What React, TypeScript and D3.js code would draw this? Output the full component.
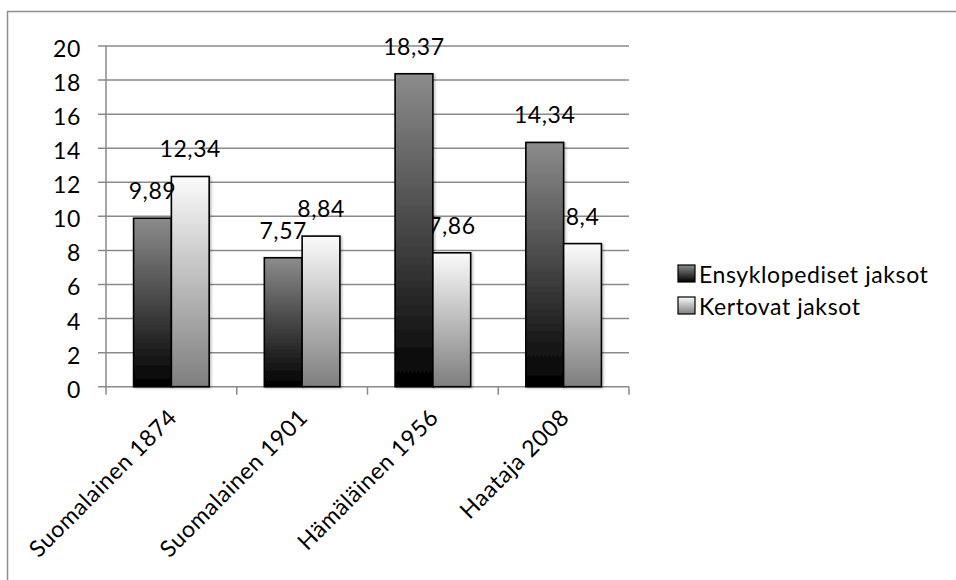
import React from "react";
import * as d3 from "d3";

const categories = ["Suomalainen 1874", "Suomalainen 1901", "Hämäläinen 1956", "Haataja 2008"];
const seriesNames = ["Ensyklopediset jaksot", "Kertovat jaksot"];
const ensyklopediset = [9.89, 7.57, 18.37, 14.34];
const kertovat = [12.34, 8.84, 7.86, 8.4];
const labelsEns = ["9,89", "7,57", "18,37", "14,34"];
const labelsKer = ["12,34", "8,84", "7,86", "8,4"];
const yTicks = [0, 2, 4, 6, 8, 10, 12, 14, 16, 18, 20];

const W = 956;
const H = 580;
const FONT = "Lato, 'Open Sans', sans-serif";
const FS = 23;
const LS = 0.6;
const GRID = "#8a8a8a";

export default function App() {
  const x0 = d3.scaleBand<string>().domain(categories).range([106, 629]).padding(0);
  const x1 = d3
    .scaleBand<string>()
    .domain(seriesNames)
    .range([0, x0.bandwidth()])
    .paddingInner(0)
    .paddingOuter(0.73);
  const y = d3.scaleLinear().domain([0, 20]).range([386.7, 46]);

  const values = [ensyklopediset, kertovat];
  const labels = [labelsEns, labelsKer];
  const fills = ["url(#gradDark)", "url(#gradLight)"];

  const bars = (s: number) =>
    categories.map((c, i) => {
      const v = values[s][i];
      const bx = (x0(c) as number) + (x1(seriesNames[s]) as number);
      return (
        <rect
          key={`b${s}-${i}`}
          x={bx}
          y={y(v)}
          width={x1.bandwidth()}
          height={y(0) - y(v)}
          fill={fills[s]}
          stroke="#000"
          strokeWidth={1.6}
          filter="url(#shadow)"
        />
      );
    });

  const valueLabels = (s: number) =>
    categories.map((c, i) => {
      const v = values[s][i];
      const cx = (x0(c) as number) + (x1(seriesNames[s]) as number) + x1.bandwidth() / 2;
      return (
        <text key={`l${s}-${i}`} x={cx} y={y(v) - 19} textAnchor="middle" fontSize={FS} fill="#000">
          {labels[s][i]}
        </text>
      );
    });

  return (
    <svg
      width={W}
      height={H}
      style={{ position: "absolute", left: 0, top: 0, background: "#fff" }}
      fontFamily={FONT}
      letterSpacing={LS}
    >
      <defs>
        <linearGradient id="gradDark" x1="0" y1="1" x2="0" y2="0">
          <stop offset="0%" stopColor="#000000" />
          <stop offset="100%" stopColor="#8c8c8c" />
        </linearGradient>
        <linearGradient id="gradLight" x1="0" y1="1" x2="0" y2="0">
          <stop offset="0%" stopColor="#7e7e7e" />
          <stop offset="100%" stopColor="#fbfbfb" />
        </linearGradient>
        <filter id="shadow" x="-20%" y="-5%" width="140%" height="110%">
          <feDropShadow dx="1.5" dy="1" stdDeviation="1.2" floodColor="#000" floodOpacity="0.25" />
        </filter>
      </defs>

      <rect x={7.5} y={11.5} width={W + 10} height={H + 10} fill="#fff" stroke="#8e8e8e" strokeWidth={1.5} />

      {yTicks.map((t) => (
        <g key={`g${t}`}>
          <line x1={98} x2={629} y1={y(t)} y2={y(t)} stroke={GRID} strokeWidth={1.5} />
          <text x={81} y={y(t) + 11} textAnchor="end" fontSize={FS} fill="#000">
            {t}
          </text>
        </g>
      ))}

      <line x1={106} x2={106} y1={y(20)} y2={y(0)} stroke={GRID} strokeWidth={1.5} />
      {[...categories.map((c) => x0(c) as number), 629].map((tx, i) => (
        <line key={`t${i}`} x1={tx} x2={tx} y1={y(0)} y2={y(0) + 8} stroke={GRID} strokeWidth={1.5} />
      ))}

      {valueLabels(1)}
      {bars(0)}
      {bars(1)}
      {valueLabels(0)}

      {categories.map((c) => {
        const cx = (x0(c) as number) + x0.bandwidth() / 2;
        return (
          <text
            key={`c${c}`}
            transform={`translate(${cx + 7},${419}) rotate(-45)`}
            textAnchor="end"
            fontSize={FS}
            fill="#000"
          >
            {c}
          </text>
        );
      })}

      {seriesNames.map((s, i) => (
        <g key={`lg${i}`} transform={`translate(678,${265 + i * 32})`}>
          <rect x={0} y={0} width={17} height={17} fill={fills[i]} stroke="#000" strokeWidth={1.2} />
          <text x={21} y={18} fontSize={FS} fill="#000">
            {s}
          </text>
        </g>
      ))}
    </svg>
  );
}
